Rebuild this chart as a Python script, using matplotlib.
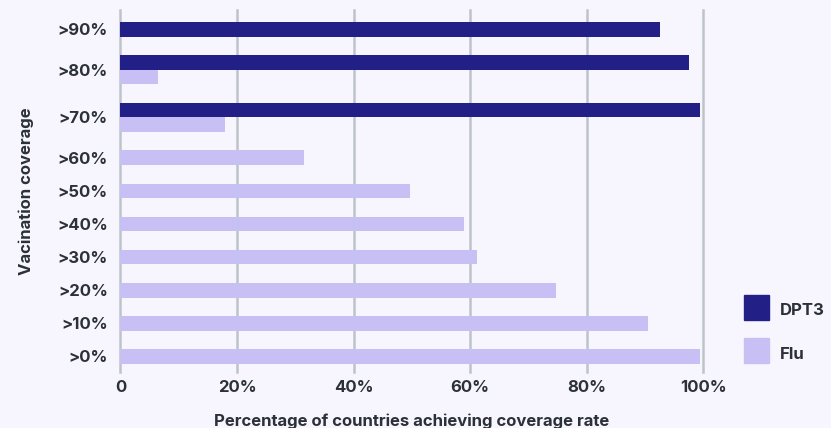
import matplotlib.pyplot as plt
from matplotlib.patches import Patch

categories = ['>90%', '>80%', '>70%', '>60%', '>50%', '>40%', '>30%', '>20%', '>10%', '>0%']
dpt3 = [92.6, 97.6, 99.5, None, None, None, None, None, None, None]
flu = [None, 6.4, 17.9, 31.5, 49.7, 59.0, 61.2, 74.8, 90.6, 99.5]
x_ticks = [0, 20, 40, 60, 80, 100]
x_tick_labels = ['0', '20%', '40%', '60%', '80%', '100%']

BG = '#f7f6fe'
DARK = '#222086'
LIGHT = '#c8bff4'
TEXT = '#2b3137'
GRID = '#bcc4ca'

BAR_H = 0.445
GAP = 0.555
FS = 12


def main():
    plt.rcParams['font.family'] = ['Inter', 'DejaVu Sans']
    fig = plt.figure(figsize=(8.31, 4.28), dpi=100, facecolor=BG)
    ax = fig.add_axes([0.145, 0.1315, 0.701, 0.844], facecolor=BG)

    # bars stacked inside each group, empty values take no room
    cursor = 0.0
    tick_pos = []
    for i, cat in enumerate(categories):
        start = cursor
        for vals, col in ((dpt3, DARK), (flu, LIGHT)):
            v = vals[i]
            if v is None:
                continue
            ax.barh(cursor + BAR_H / 2, v, height=BAR_H, color=col, zorder=3)
            cursor += BAR_H
        tick_pos.append((start + cursor) / 2)
        cursor += GAP
    bottom = cursor - GAP

    ax.set_ylim(bottom + 0.242, -0.342)
    ax.set_xlim(0, 100)
    ax.set_yticks(tick_pos)
    ax.set_yticklabels(categories)
    ax.set_xticks(x_ticks)
    ax.set_xticklabels(x_tick_labels)
    ax.tick_params(length=0, labelsize=FS, colors=TEXT)
    ax.tick_params(axis='x', pad=6)
    ax.tick_params(axis='y', pad=9)
    for lab in ax.get_xticklabels() + ax.get_yticklabels():
        lab.set_fontweight('bold')
    ax.xaxis.grid(True, color=GRID, linewidth=1.8, zorder=0)
    for gl in ax.get_xgridlines():
        gl.set_clip_on(False)
    for s in ax.spines.values():
        s.set_visible(False)

    ax.set_xlabel('Percentage of countries achieving coverage rate', fontsize=FS,
                  fontweight='bold', color=TEXT, labelpad=13)
    ax.set_ylabel('Vacination coverage', fontsize=FS, fontweight='bold',
                  color=TEXT, labelpad=17)

    handles = [Patch(color=DARK, label='DPT3'), Patch(color=LIGHT, label='Flu')]
    fig.legend(handles=handles, loc='upper left', bbox_to_anchor=(0.887, 0.316),
               frameon=False, handlelength=1.5, handleheight=1.5,
               handletextpad=0.65, labelspacing=1.4, borderaxespad=0,
               labelcolor=TEXT, prop={'weight': 'bold', 'size': FS})
    for h in fig.legends[0].legend_handles:
        h.set_height(h.get_width())

    fig.savefig('out.png', dpi=100, facecolor=BG)


if __name__ == '__main__':
    main()
